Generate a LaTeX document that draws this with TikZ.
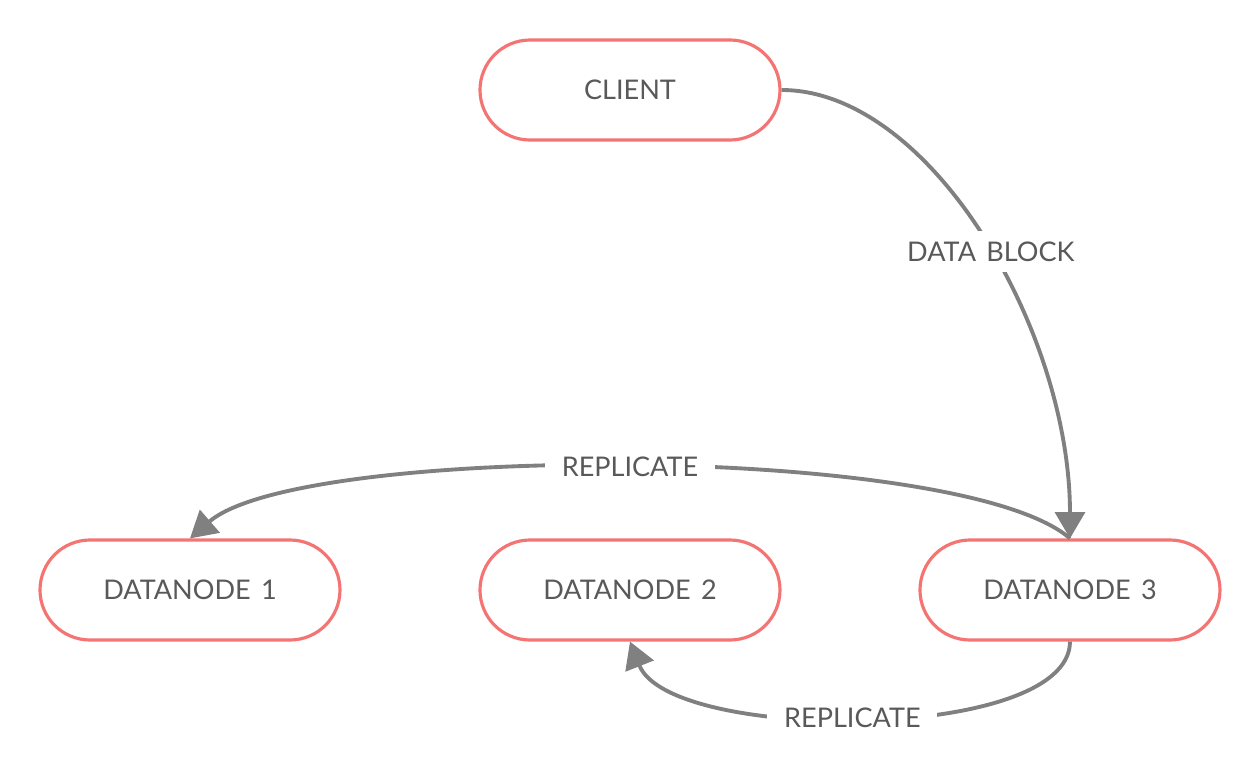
\documentclass[tikz,border=0pt]{standalone}
\usepackage{fontspec}
\setmainfont{Lato}
\usepackage{tikz}
\usetikzlibrary{arrows.meta}
\definecolor{boxred}{HTML}{F47373}
\definecolor{linegray}{HTML}{808080}
\definecolor{textgray}{HTML}{595959}
\newcommand{\wsp}{\hspace{0.38em}}
\tikzset{
	hdfsbox/.style={draw=boxred, line width=0.9pt, rounded corners=0.5cm, minimum width=3cm, minimum height=1cm, text=textgray, font=\fontsize{7.7}{9.2}\selectfont},
	flow/.style={draw=linegray, line width=1.1pt, -{Triangle[length=7.5pt,width=8.5pt]}},
	flowlabel/.style={fill=white, text=textgray, inner xsep=4.8pt, inner ysep=3pt, font=\fontsize{7.7}{9.2}\selectfont}
}

\begin{document}
\begin{tikzpicture}
			%%%%% START %%%%%
			
			\useasboundingbox (0, 0) rectangle (12.6, -7.73);
			
			\node[hdfsbox] (client) at (6.3, -0.9) {CLIENT};
			\node[hdfsbox] (dn1) at (1.9, -5.9) {DATANODE\wsp 1};
			\node[hdfsbox] (dn2) at (6.3, -5.9) {DATANODE\wsp 2};
			\node[hdfsbox] (dn3) at (10.7, -5.9) {DATANODE\wsp 3};
			
			\draw[flow] (client.east) .. controls (9.3, -0.9) and (10.7, -3.3) .. node[flowlabel, pos=0.53] {DATA\wsp BLOCK} (dn3.north);
			\draw[flow] (dn3.north) .. controls (9.6, -4.43) and (3.0, -4.43) .. node[flowlabel] {REPLICATE} (dn1.north);
			\draw[flow] (dn3.south) .. controls (10.7, -7.43) and (6.7, -7.43) .. node[flowlabel, pos=0.52] {REPLICATE} (dn2.south);
			
			%%%%% END %%%%%
		\end{tikzpicture}
\end{document}
